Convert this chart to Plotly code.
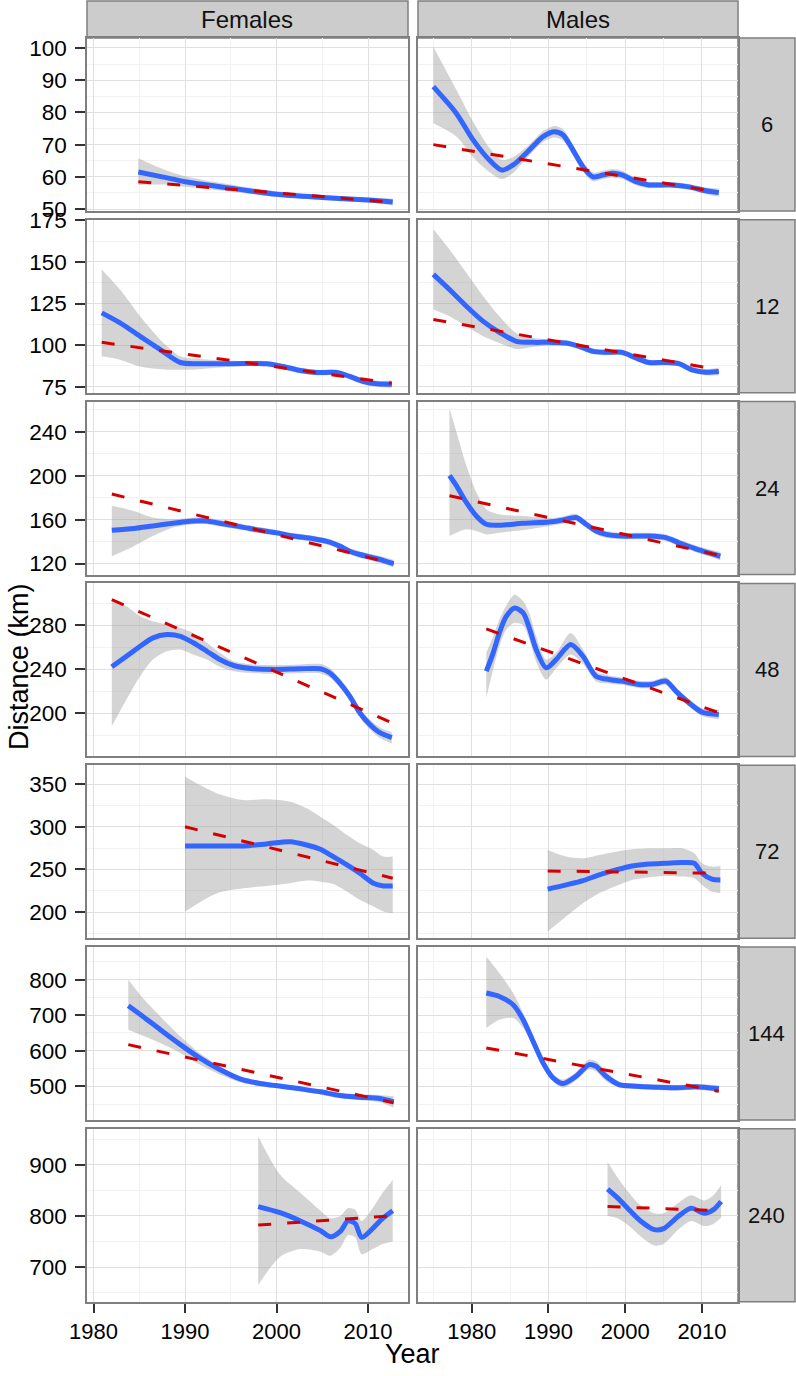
import plotly.graph_objects as go

# ---------------- data ----------------
SEXES = ["Females", "Males"]
DURATIONS = ["6", "12", "24", "48", "72", "144", "240"]
X_TICKS = [1980, 1990, 2000, 2010]
Y_TICKS = [
    [50, 60, 70, 80, 90, 100],
    [75, 100, 125, 150, 175],
    [120, 160, 200, 240],
    [200, 240, 280],
    [200, 250, 300, 350],
    [500, 600, 700, 800],
    [700, 800, 900],
]

# Females, 6
F6_YEAR = [1984.9, 1987.5, 1990.0, 1995.0, 2000.0, 2005.0, 2010.0, 2012.7]
F6_FIT = [61.5, 60.0, 58.5, 56.5, 54.6, 53.6, 52.8, 52.2]
F6_HI = [65.8, 62.5, 60.2, 57.6, 55.5, 54.4, 53.6, 53.3]
F6_LO = [57.5, 57.6, 56.9, 55.4, 53.8, 52.8, 52.0, 51.1]
F6_LIN_YEAR = [1984.9, 2012.7]
F6_LIN = [58.5, 52.1]

# Males, 6
M6_YEAR = [1975.0, 1978.0, 1980.2, 1982.3, 1983.9, 1985.4, 1987.5, 1989.3, 1990.8, 1991.9, 1993.2,
           1994.5, 1995.8, 1997.1, 1998.4, 1999.6, 2001.4, 2003.1, 2006.1, 2008.3, 2010.5, 2012.2]
M6_FIT = [88.0, 79.7, 71.4, 65.2, 62.1, 63.7, 68.3, 72.5, 74.0, 73.0, 68.3,
          63.1, 60.0, 60.6, 61.1, 60.6, 58.5, 57.5, 57.5, 56.9, 55.7, 55.1]
M6_HI = [100.4, 87.0, 77.0, 69.0, 65.2, 66.2, 70.0, 74.2, 75.8, 74.8, 70.0,
         64.6, 61.4, 61.9, 62.4, 61.9, 59.6, 58.5, 58.4, 57.8, 56.7, 56.4]
M6_LO = [76.6, 72.5, 66.0, 61.5, 59.3, 61.2, 66.6, 70.8, 72.2, 71.2, 66.6,
         61.6, 58.6, 59.3, 59.8, 59.3, 57.4, 56.5, 56.6, 56.0, 54.7, 53.8]
M6_LIN_YEAR = [1975.0, 2012.2]
M6_LIN = [70.0, 55.2]

# Females, 12
F12_YEAR = [1980.9, 1982.9, 1985.1, 1987.3, 1989.5, 1991.6, 1995.3, 1998.9, 2000.7, 2002.6,
            2004.4, 2006.6, 2008.0, 2009.5, 2011.0, 2012.6]
F12_FIT = [119.4, 113.4, 105.3, 97.3, 89.6, 88.9, 88.9, 88.9, 87.2, 84.8,
           83.6, 83.6, 81.2, 78.2, 76.8, 76.6]
F12_HI = [145.5, 133.4, 117.3, 103.3, 93.3, 91.7, 90.6, 90.5, 88.8, 86.4,
          85.2, 85.2, 82.8, 79.9, 78.6, 78.8]
F12_LO = [93.3, 91.3, 87.2, 85.6, 85.2, 85.6, 87.2, 87.3, 85.6, 83.2,
          82.0, 82.0, 79.6, 76.5, 75.0, 74.4]
F12_LIN_YEAR = [1980.9, 2012.6]
F12_LIN = [101.7, 77.2]

# Males, 12
M12_YEAR = [1975.0, 1977.1, 1979.3, 1981.5, 1983.6, 1985.8, 1988.0, 1990.1, 1992.3, 1994.0,
            1995.8, 1997.5, 1999.6, 2001.4, 2003.1, 2005.3, 2007.0, 2008.7, 2010.5, 2012.2]
M12_FIT = [142.5, 133.4, 123.4, 114.3, 107.7, 102.3, 101.7, 101.7, 101.3, 99.3,
           96.3, 95.7, 95.7, 92.3, 89.6, 89.6, 88.9, 85.2, 83.8, 84.2]
M12_HI = [169.6, 157.5, 143.5, 129.4, 117.3, 107.3, 104.3, 103.5, 103.0, 101.0,
          98.0, 97.4, 97.4, 94.0, 91.3, 91.3, 90.6, 87.0, 85.7, 86.6]
M12_LO = [121.4, 117.3, 111.3, 105.3, 101.3, 97.7, 98.9, 99.9, 99.6, 97.6,
          94.6, 94.0, 94.0, 90.6, 87.9, 87.9, 87.2, 83.4, 81.9, 81.8]
M12_LIN_YEAR = [1975.0, 2012.2]
M12_LIN = [115.4, 85.2]

# Females, 24
F24_YEAR = [1982.0, 1984.4, 1986.5, 1988.7, 1990.9, 1992.4, 1993.8, 1996.0, 1998.2, 1999.9,
            2001.8, 2004.0, 2005.8, 2006.9, 2008.0, 2009.1, 2010.6, 2011.7, 2012.8]
F24_FIT = [150.3, 151.9, 154.3, 156.7, 158.8, 158.8, 156.7, 153.7, 150.3, 148.2,
           145.1, 142.7, 139.6, 135.9, 131.3, 128.3, 125.2, 122.8, 120.0]
F24_HI = [172.6, 168.0, 162.0, 160.4, 162.0, 161.8, 159.6, 156.5, 153.0, 150.9,
          147.8, 145.4, 142.4, 138.8, 134.3, 131.3, 128.3, 126.0, 123.6]
F24_LO = [126.7, 135.9, 145.1, 152.8, 155.8, 155.8, 153.8, 150.9, 147.6, 145.5,
          142.4, 140.0, 136.8, 133.0, 128.3, 125.3, 122.1, 119.6, 116.4]
F24_LIN_YEAR = [1982.0, 2012.8]
F24_LIN = [183.4, 120.0]

# Males, 24
M24_YEAR = [1977.1, 1978.0, 1979.3, 1980.6, 1981.9, 1983.6, 1986.7, 1990.1, 1991.9, 1993.6,
            1994.9, 1996.2, 1997.5, 1999.6, 2003.1, 2005.3, 2007.0, 2009.2, 2010.9, 2012.4]
M24_FIT = [200.2, 191.0, 175.7, 163.4, 155.8, 154.9, 156.7, 157.9, 159.8, 162.0,
           155.8, 149.7, 146.6, 145.1, 145.1, 143.6, 139.0, 133.5, 129.8, 126.7]
M24_HI = [261.4, 240.0, 209.3, 184.9, 169.6, 165.0, 163.4, 161.5, 163.0, 165.2,
          159.0, 152.8, 149.6, 148.0, 148.0, 146.6, 142.0, 136.6, 133.0, 130.5]
M24_LO = [145.1, 148.2, 151.2, 149.7, 146.6, 148.2, 150.6, 154.3, 156.6, 158.8,
          152.6, 146.6, 143.6, 142.2, 142.2, 140.6, 136.0, 130.4, 126.6, 122.9]
M24_LIN_YEAR = [1977.1, 2012.4]
M24_LIN = [181.8, 127.3]

# Females, 48
F48_YEAR = [1982.0, 1983.6, 1985.1, 1986.5, 1988.0, 1989.5, 1990.9, 1992.4, 1993.8, 1995.3, 1997.5,
            1999.9, 2002.6, 2004.8, 2005.8, 2006.9, 2008.0, 2009.1, 2010.2, 2011.3, 2012.6]
F48_FIT = [242.3, 251.9, 261.0, 268.6, 271.6, 270.0, 264.1, 256.4, 248.9, 243.5, 240.5,
           239.9, 240.5, 240.5, 236.9, 227.8, 215.7, 200.6, 190.0, 182.5, 178.0]
F48_HI = [301.7, 297.2, 288.1, 283.6, 280.6, 277.6, 273.1, 264.1, 255.0, 247.4, 244.5,
          243.9, 244.5, 244.8, 241.3, 232.0, 219.8, 204.8, 194.4, 187.3, 183.2]
F48_LO = [188.5, 212.7, 233.8, 248.9, 256.4, 258.0, 253.5, 248.9, 242.3, 238.3, 236.5,
          235.9, 236.5, 236.2, 232.5, 223.6, 211.6, 196.4, 185.6, 177.7, 172.8]
F48_LIN_YEAR = [1982.0, 2012.6]
F48_LIN = [303.3, 191.6]

# Males, 48
M48_YEAR = [1981.9, 1982.8, 1983.6, 1984.5, 1985.6, 1986.7, 1987.5, 1988.4, 1989.7, 1991.0, 1992.9,
            1994.5, 1996.2, 1997.9, 1999.6, 2001.8, 2003.5, 2005.3, 2006.6, 2008.3, 2010.0, 2012.2]
M48_FIT = [238.3, 255.0, 273.1, 288.1, 295.7, 291.2, 277.6, 258.0, 241.4, 248.9, 262.5,
           251.9, 233.8, 230.8, 229.3, 226.3, 226.3, 229.3, 220.2, 209.7, 201.2, 199.1]
M48_HI = [255.0, 270.0, 285.1, 298.0, 307.8, 302.0, 291.2, 270.0, 248.9, 255.0, 273.1,
          258.0, 238.0, 234.5, 232.6, 229.6, 229.6, 232.8, 223.6, 213.0, 204.8, 203.5]
M48_LO = [214.2, 240.0, 261.0, 276.0, 282.2, 280.0, 267.0, 247.0, 230.8, 241.0, 253.5,
          245.0, 229.0, 227.0, 226.0, 223.0, 223.0, 225.8, 216.8, 206.4, 197.6, 194.7]
M48_LIN_YEAR = [1981.9, 2012.2]
M48_LIN = [276.7, 200.6]

# Females, 72
F72_YEAR = [1990.0, 1993.5, 1996.4, 1998.9, 2001.5, 2003.3, 2004.8, 2006.2, 2007.7, 2009.1,
            2010.6, 2011.7, 2012.7]
F72_FIT = [277.5, 277.5, 277.5, 279.8, 282.5, 278.6, 273.6, 265.0, 255.3, 245.6, 233.9, 230.7, 230.7]
F72_HI = [358.4, 339.0, 331.2, 332.0, 329.2, 321.5, 311.7, 302.0, 290.3, 280.6, 272.8, 265.0, 265.0]
F72_LO = [200.7, 222.2, 228.0, 230.7, 233.9, 236.9, 235.7, 233.0, 224.1, 214.4, 206.5, 200.7, 198.8]
F72_LIN_YEAR = [1990.0, 2012.7]
F72_LIN = [300.0, 239.7]

# Males, 72
M72_YEAR = [1989.9, 1992.3, 1994.5, 1996.6, 1998.8, 2000.9, 2003.1, 2005.3, 2007.4, 2009.0,
            2010.0, 2011.3, 2012.4]
M72_FIT = [226.9, 231.9, 236.9, 243.6, 249.4, 254.1, 256.4, 257.2, 258.0, 257.2, 245.6, 238.6, 237.7]
M72_HI = [272.8, 265.0, 263.1, 267.0, 270.8, 273.6, 274.8, 274.8, 274.8, 268.9, 257.2, 253.3, 254.1]
M72_LO = [177.3, 194.9, 210.5, 222.2, 230.7, 237.7, 240.9, 242.4, 241.6, 239.7, 231.9, 224.1, 222.2]
M72_LIN_YEAR = [1989.9, 2012.4]
M72_LIN = [248.2, 245.5]

# Females, 144
F144_YEAR = [1983.8, 1985.4, 1987.3, 1989.5, 1991.6, 1993.8, 1996.0, 1998.2, 1999.9, 2002.6,
             2004.8, 2006.9, 2009.1, 2011.3, 2012.8]
F144_FIT = [726.7, 696.6, 659.3, 617.1, 579.8, 546.9, 520.8, 507.6, 502.0, 492.7,
            484.3, 473.9, 469.1, 465.4, 456.2]
F144_HI = [799.7, 748.3, 696.6, 640.4, 593.8, 556.2, 528.1, 514.0, 508.5, 499.5,
           491.5, 481.5, 477.5, 475.5, 471.9]
F144_LO = [659.3, 642.4, 621.9, 593.8, 561.0, 532.9, 511.2, 500.0, 495.5, 486.0,
           477.0, 466.3, 460.7, 455.3, 439.3]
F144_LIN_YEAR = [1983.8, 2012.8]
F144_LIN = [617.1, 453.4]

# Males, 144
M144_YEAR = [1981.9, 1983.6, 1985.4, 1986.7, 1988.0, 1989.3, 1990.6, 1991.9, 1993.6, 1995.3,
             1996.2, 1997.5, 1999.2, 2001.4, 2004.0, 2006.6, 2009.2, 2012.2]
M144_FIT = [762.4, 752.8, 729.5, 687.4, 626.4, 565.7, 523.6, 507.6, 528.1, 561.0,
            556.2, 528.1, 504.8, 500.0, 497.2, 495.5, 498.3, 492.7]
M144_HI = [865.2, 818.5, 762.4, 706.2, 640.4, 575.0, 532.9, 518.8, 539.3, 575.0,
           570.2, 542.1, 513.0, 508.0, 505.0, 503.5, 506.5, 503.0]
M144_LO = [664.0, 687.4, 692.1, 664.0, 612.4, 556.2, 514.0, 495.5, 516.9, 546.9,
           542.1, 514.0, 496.5, 492.0, 489.5, 487.5, 490.0, 482.5]
M144_LIN_YEAR = [1981.9, 2012.2]
M144_LIN = [607.9, 486.0]

# Females, 240
F240_YEAR = [1998.0, 2000.4, 2002.6, 2004.8, 2005.9, 2007.0, 2007.8, 2008.6, 2009.3, 2010.5, 2011.6, 2012.7]
F240_FIT = [818, 806, 790, 771, 759, 770, 790, 785, 758, 775, 795, 810]
F240_HI = [955, 880, 845, 810, 795, 800, 815, 812, 790, 815, 845, 870]
F240_LO = [665, 720, 735, 730, 722, 738, 762, 758, 725, 735, 745, 750]
F240_LIN_YEAR = [1998.0, 2012.7]
F240_LIN = [782, 800]

# Males, 240
M240_YEAR = [1997.7, 1999.0, 2000.5, 2002.0, 2003.8, 2005.0, 2007.0, 2008.6, 2010.3, 2011.5, 2012.5]
M240_FIT = [852, 835, 812, 790, 773, 775, 800, 815, 805, 812, 828]
M240_HI = [905, 875, 845, 820, 805, 805, 826, 840, 830, 840, 860]
M240_LO = [800, 795, 780, 760, 742, 745, 774, 790, 780, 784, 796]
M240_LIN_YEAR = [1997.7, 2012.5]
M240_LIN = [818, 810]

PANELS = {
    ("Females", "6"): (F6_YEAR, F6_FIT, F6_HI, F6_LO, F6_LIN_YEAR, F6_LIN),
    ("Males", "6"): (M6_YEAR, M6_FIT, M6_HI, M6_LO, M6_LIN_YEAR, M6_LIN),
    ("Females", "12"): (F12_YEAR, F12_FIT, F12_HI, F12_LO, F12_LIN_YEAR, F12_LIN),
    ("Males", "12"): (M12_YEAR, M12_FIT, M12_HI, M12_LO, M12_LIN_YEAR, M12_LIN),
    ("Females", "24"): (F24_YEAR, F24_FIT, F24_HI, F24_LO, F24_LIN_YEAR, F24_LIN),
    ("Males", "24"): (M24_YEAR, M24_FIT, M24_HI, M24_LO, M24_LIN_YEAR, M24_LIN),
    ("Females", "48"): (F48_YEAR, F48_FIT, F48_HI, F48_LO, F48_LIN_YEAR, F48_LIN),
    ("Males", "48"): (M48_YEAR, M48_FIT, M48_HI, M48_LO, M48_LIN_YEAR, M48_LIN),
    ("Females", "72"): (F72_YEAR, F72_FIT, F72_HI, F72_LO, F72_LIN_YEAR, F72_LIN),
    ("Males", "72"): (M72_YEAR, M72_FIT, M72_HI, M72_LO, M72_LIN_YEAR, M72_LIN),
    ("Females", "144"): (F144_YEAR, F144_FIT, F144_HI, F144_LO, F144_LIN_YEAR, F144_LIN),
    ("Males", "144"): (M144_YEAR, M144_FIT, M144_HI, M144_LO, M144_LIN_YEAR, M144_LIN),
    ("Females", "240"): (F240_YEAR, F240_FIT, F240_HI, F240_LO, F240_LIN_YEAR, F240_LIN),
    ("Males", "240"): (M240_YEAR, M240_FIT, M240_HI, M240_LO, M240_LIN_YEAR, M240_LIN),
}

# ---------------- layout geometry (pixels) ----------------
W, H = 796, 1376
COL_X = [(87, 408), (418, 738)]
ROW_TOP0, ROW_STEP, ROW_H = 38, 181.8, 173
STRIP_RIGHT = (738, 795)
STRIP_TOP = (1, 38)
X_RANGES = [[1979.29, 2014.37], [1973.0, 2014.7]]
Y_RANGES = [[49.4, 103.1], [71.4, 175.3], [110, 267.5], [161, 318],
            [169.5, 372], [405, 892], [632, 970]]

FONT = "Liberation Sans, Arial, sans-serif"
TXT = "#111111"
BORDER = "#7F7F7F"


def px(xp):
    return xp / W


def py(yp):
    return 1 - yp / H


fig = go.Figure()
layout = dict(
    width=W, height=H, margin=dict(l=0, r=0, t=0, b=0, pad=0), autosize=False,
    paper_bgcolor="white", plot_bgcolor="white", showlegend=False,
    font=dict(family=FONT, color=TXT),
)
shapes = []
annotations = []

for r, dur in enumerate(DURATIONS):
    top = ROW_TOP0 + r * ROW_STEP
    bot = top + ROW_H
    ticks_y = Y_TICKS[r]
    ystep = ticks_y[1] - ticks_y[0]
    for c, sex in enumerate(SEXES):
        k = r * 2 + c + 1
        xa = "x" if k == 1 else f"x{k}"
        ya = "y" if k == 1 else f"y{k}"
        yr, fit, hi, lo, lyr, lin = PANELS[(sex, dur)]
        common = dict(xaxis=xa, yaxis=ya, mode="lines", hoverinfo="skip", showlegend=False)
        fig.add_trace(go.Scatter(x=yr, y=lo, line=dict(width=0, shape="spline", smoothing=0.8), **common))
        fig.add_trace(go.Scatter(x=yr, y=hi, fill="tonexty", fillcolor="rgba(153,153,153,0.42)",
                                 line=dict(width=0, shape="spline", smoothing=0.8), **common))
        fig.add_trace(go.Scatter(x=yr, y=fit, line=dict(color="#3366FF", width=5, shape="spline", smoothing=0.8), **common))
        fig.add_trace(go.Scatter(x=lyr, y=lin, line=dict(color="#D40000", width=3, dash="13px,16px"), **common))

        x0, x1 = COL_X[c]
        bottom_row = r == len(DURATIONS) - 1
        layout["xaxis" if k == 1 else f"xaxis{k}"] = dict(
            domain=[px(x0), px(x1)], anchor=ya, range=X_RANGES[c], automargin=False,
            tickmode="array", tickvals=X_TICKS, showticklabels=bottom_row,
            ticks="outside" if bottom_row else "", ticklen=9, tickwidth=1.5, tickcolor="#333333",
            tickfont=dict(size=22, color="black", family=FONT),
            showgrid=True, gridcolor="#E0E0E0", gridwidth=1,
            minor=dict(tickmode="linear", tick0=1975, dtick=10, showgrid=True, gridcolor="#F2F2F2", gridwidth=1),
            showline=True, mirror=True, linecolor=BORDER, linewidth=1.5, zeroline=False, fixedrange=True,
        )
        left_col = c == 0
        layout["yaxis" if k == 1 else f"yaxis{k}"] = dict(
            domain=[py(bot), py(top)], anchor=xa, range=Y_RANGES[r], automargin=False,
            tickmode="array", tickvals=ticks_y, showticklabels=left_col,
            ticks="outside" if left_col else "", ticklen=10, tickwidth=1.5, tickcolor="#333333",
            ticklabelstandoff=4,
            tickfont=dict(size=22.5, color="black", family=FONT),
            showgrid=True, gridcolor="#E0E0E0", gridwidth=1,
            minor=dict(tickmode="linear", tick0=ticks_y[0] - ystep / 2, dtick=ystep, showgrid=True,
                       gridcolor="#F2F2F2", gridwidth=1),
            showline=True, mirror=True, linecolor=BORDER, linewidth=1.5, zeroline=False, fixedrange=True,
        )

    # right strip for this row
    shapes.append(dict(type="rect", xref="paper", yref="paper",
                       x0=px(STRIP_RIGHT[0]), x1=px(STRIP_RIGHT[1]), y0=py(bot), y1=py(top),
                       fillcolor="#CCCCCC", line=dict(color=BORDER, width=1.5), layer="below"))
    annotations.append(dict(xref="paper", yref="paper", x=px((STRIP_RIGHT[0] + STRIP_RIGHT[1]) / 2),
                            y=py((top + bot) / 2), text=dur, showarrow=False,
                            font=dict(size=22, color=TXT, family=FONT), xanchor="center", yanchor="middle"))

# top strips
for c, sex in enumerate(SEXES):
    x0, x1 = COL_X[c]
    shapes.append(dict(type="rect", xref="paper", yref="paper",
                       x0=px(x0), x1=px(x1), y0=py(STRIP_TOP[1]), y1=py(STRIP_TOP[0]),
                       fillcolor="#CCCCCC", line=dict(color=BORDER, width=1.5), layer="below"))
    annotations.append(dict(xref="paper", yref="paper", x=px((x0 + x1) / 2),
                            y=py((STRIP_TOP[0] + STRIP_TOP[1]) / 2), text=sex, showarrow=False,
                            font=dict(size=24, color=TXT, family=FONT), xanchor="center", yanchor="middle"))

# axis titles (kept fully inside the figure so they do not push the margins)
annotations.append(dict(xref="paper", yref="paper", x=px((COL_X[0][0] + COL_X[1][1]) / 2), y=py(1354),
                        text="Year", showarrow=False, font=dict(size=27, color="black", family=FONT),
                        xanchor="center", yanchor="middle"))
annotations.append(dict(xref="paper", yref="paper", x=px(19), y=py(667),
                        text="Distance (km)", showarrow=False, textangle=-90,
                        font=dict(size=27, color="black", family=FONT),
                        xanchor="center", yanchor="middle"))

layout["shapes"] = shapes
layout["annotations"] = annotations
fig.update_layout(**layout)

fig.write_html("out.html", config={"displayModeBar": False},
               post_script="document.body.style.margin='0px';")
